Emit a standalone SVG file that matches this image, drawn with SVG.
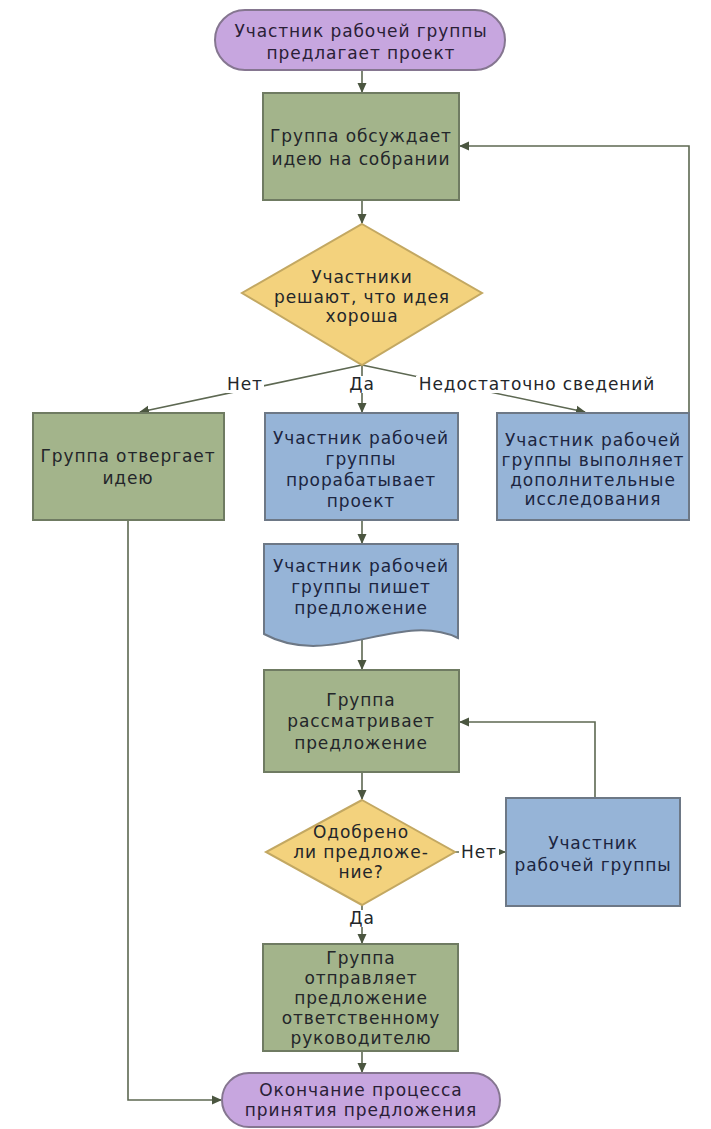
<svg xmlns="http://www.w3.org/2000/svg" width="711" height="1129" viewBox="0 0 711 1129">
  <defs>
    <marker id="arr" viewBox="0 0 10 10" refX="9" refY="5" markerWidth="10" markerHeight="10" markerUnits="userSpaceOnUse" orient="auto">
      <path d="M0,0.5 L10,5 L0,9.5 Z" fill="#4b5640"/>
    </marker>
    <style>
      .t{font-family:"DejaVu Sans","Noto Sans",sans-serif;font-size:17px;letter-spacing:0.9px;text-anchor:middle;dominant-baseline:central;fill:#23262a}
      .tb{fill:#1c2540}
      .tp{fill:#2a2036}
      .term{fill:#c7a6df;stroke:#857690;stroke-width:2}
      .grn{fill:#a3b48b;stroke:#6f7b62;stroke-width:2}
      .blu{fill:#96b4d7;stroke:#6d7886;stroke-width:2}
      .yel{fill:#f3d27d;stroke:#c3a862;stroke-width:2}
      .c{fill:none;stroke:#5d6852;stroke-width:1.6}
      .lbg{fill:#ffffff}
    </style>
  </defs>
  <rect width="711" height="1129" fill="#ffffff"/>

  <g id="connectors">
    <path class="c" d="M362,70 V92" marker-end="url(#arr)"/>
    <path class="c" d="M362,200 V223" marker-end="url(#arr)"/>
    <path class="c" d="M362,365 V412" marker-end="url(#arr)"/>
    <path class="c" d="M362,365 L140,412" marker-end="url(#arr)"/>
    <path class="c" d="M362,365 L585,412" marker-end="url(#arr)"/>
    <path class="c" d="M689,413 V146 H460" marker-end="url(#arr)"/>
    <path class="c" d="M362,520 V543" marker-end="url(#arr)"/>
    <path class="c" d="M362,639 V669" marker-end="url(#arr)"/>
    <path class="c" d="M362,772 V799" marker-end="url(#arr)"/>
    <path class="c" d="M455,852 H505" marker-end="url(#arr)"/>
    <path class="c" d="M595,798 V722 H460" marker-end="url(#arr)"/>
    <path class="c" d="M362,905 V943" marker-end="url(#arr)"/>
    <path class="c" d="M362,1051 V1072" marker-end="url(#arr)"/>
    <path class="c" d="M128,520 V1100 H221" marker-end="url(#arr)"/>
    <rect class="lbg" x="226" y="376" width="38" height="17"/>
    <text class="t" x="245" y="384">Нет</text>
    <rect class="lbg" x="347" y="376" width="30" height="17"/>
    <text class="t" x="362" y="384">Да</text>
    <rect class="lbg" x="416" y="376" width="244" height="17"/>
    <text class="t" x="537" y="384">Недостаточно сведений</text>
    <rect class="lbg" x="459" y="845" width="40" height="15"/>
    <text class="t" x="479" y="852">Нет</text>
    <rect class="lbg" x="347" y="910" width="30" height="17"/>
    <text class="t" x="362" y="918">Да</text>
  </g>

  <g id="start">
    <rect class="term" x="215" y="10" width="290" height="60" rx="30"/>
    <text class="t tp" x="361" y="31">Участник рабочей группы</text>
    <text class="t tp" x="361" y="53">предлагает проект</text>
  </g>

  <g id="discuss">
    <rect class="grn" x="263" y="93" width="196" height="107"/>
    <text class="t" x="361" y="136">Группа обсуждает</text>
    <text class="t" x="361" y="159">идею на собрании</text>
  </g>

  <g id="decide">
    <polygon class="yel" points="362,224 482,293 362,365 242,293"/>
    <text class="t" x="362" y="277">Участники</text>
    <text class="t" x="362" y="297">решают, что идея</text>
    <text class="t" x="362" y="316">хороша</text>
  </g>

  <g id="reject">
    <rect class="grn" x="33" y="413" width="191" height="107"/>
    <text class="t" x="128" y="456">Группа отвергает</text>
    <text class="t" x="128" y="478">идею</text>
  </g>

  <g id="develop">
    <rect class="blu" x="265" y="413" width="193" height="107"/>
    <text class="t tb" x="361" y="438">Участник рабочей</text>
    <text class="t tb" x="361" y="459">группы</text>
    <text class="t tb" x="361" y="480">прорабатывает</text>
    <text class="t tb" x="361" y="501">проект</text>
  </g>

  <g id="research">
    <rect class="blu" x="497" y="413" width="192" height="107"/>
    <text class="t tb" x="593" y="440">Участник рабочей</text>
    <text class="t tb" x="593" y="460">группы выполняет</text>
    <text class="t tb" x="593" y="480">дополнительные</text>
    <text class="t tb" x="593" y="499">исследования</text>
  </g>

  <g id="write">
    <path class="blu" d="M264,544 H458 V638 C400,610 330,670 264,634 Z"/>
    <text class="t tb" x="361" y="566">Участник рабочей</text>
    <text class="t tb" x="361" y="587">группы пишет</text>
    <text class="t tb" x="361" y="608">предложение</text>
  </g>

  <g id="review">
    <rect class="grn" x="264" y="670" width="195" height="102"/>
    <text class="t" x="361" y="700">Группа</text>
    <text class="t" x="361" y="721">рассматривает</text>
    <text class="t" x="361" y="743">предложение</text>
  </g>

  <g id="approved">
    <polygon class="yel" points="362,800 455,852 362,905 266,852"/>
    <text class="t" x="361" y="832">Одобрено</text>
    <text class="t" x="361" y="852">ли предложе-</text>
    <text class="t" x="361" y="872">ние?</text>
  </g>

  <g id="member">
    <rect class="blu" x="506" y="798" width="174" height="108"/>
    <text class="t tb" x="593" y="843">Участник</text>
    <text class="t tb" x="593" y="865">рабочей группы</text>
  </g>

  <g id="send">
    <rect class="grn" x="263" y="944" width="195" height="107"/>
    <text class="t" x="361" y="958">Группа</text>
    <text class="t" x="361" y="978">отправляет</text>
    <text class="t" x="361" y="998">предложение</text>
    <text class="t" x="361" y="1018">ответственному</text>
    <text class="t" x="361" y="1038">руководителю</text>
  </g>

  <g id="end">
    <rect class="term" x="222" y="1073" width="278" height="54" rx="27"/>
    <text class="t tp" x="361" y="1090">Окончание процесса</text>
    <text class="t tp" x="361" y="1110">принятия предложения</text>
  </g>
</svg>
